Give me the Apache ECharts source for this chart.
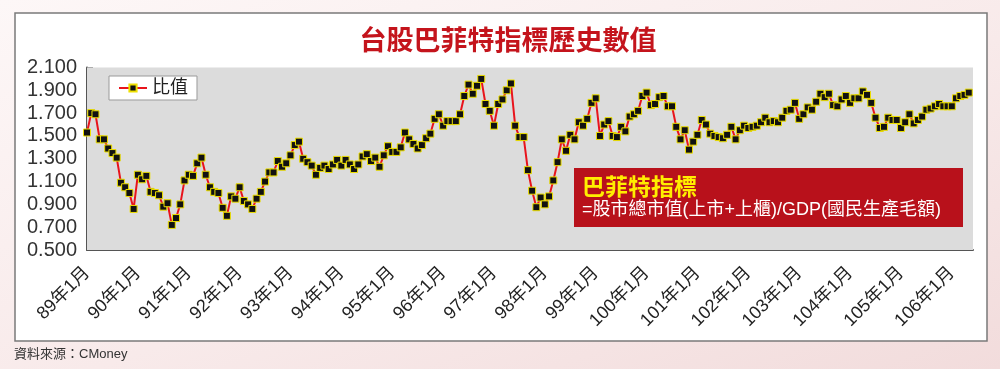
<!DOCTYPE html>
<html>
<head>
<meta charset="utf-8">
<script src="https://cdn.jsdelivr.net/npm/echarts@6/dist/echarts.min.js"></script>
<style>
html,body{margin:0;padding:0;}
body{width:1000px;height:369px;overflow:hidden;background:linear-gradient(160deg,#fdf7f7 0%,#f8eaea 55%,#f2dcdc 100%);}
#c{width:1000px;height:369px;}
</style>
</head>
<body>
<div id="c"></div>
<script>
// ---- data ----
const titleText = '台股巴菲特指標歷史數值';
const seriesName = '比值';
const sourceText = '資料來源：CMoney';
const boxTitle = '巴菲特指標';
const boxFormula = '=股市總市值(上市+上櫃)/GDP(國民生產毛額)';
const years = [89,90,91,92,93,94,95,96,97,98,99,100,101,102,103,104,105,106];
const lastMonth = 6; // axis runs to 106年6月
const v89  = [1.53,1.70,1.69,1.47,1.47,1.39,1.35,1.31,1.09,1.05,1.00,0.86];
const v90  = [1.16,1.12,1.15,1.01,1.00,0.98,0.88,0.91,0.72,0.78,0.90,1.11];
const v91  = [1.16,1.15,1.26,1.31,1.16,1.05,1.01,1.00,0.87,0.80,0.97,0.95];
const v92  = [1.05,0.93,0.90,0.86,0.95,1.01,1.10,1.18,1.18,1.28,1.23,1.26];
const v93  = [1.33,1.42,1.45,1.30,1.27,1.24,1.16,1.22,1.24,1.21,1.25,1.29];
const v94  = [1.24,1.29,1.25,1.21,1.25,1.32,1.34,1.28,1.31,1.23,1.33,1.41];
const v95  = [1.36,1.36,1.40,1.53,1.47,1.43,1.39,1.42,1.48,1.52,1.65,1.69];
const v96  = [1.59,1.63,1.63,1.63,1.69,1.85,1.95,1.87,1.94,2.00,1.78,1.72];
const v97  = [1.59,1.78,1.82,1.90,1.96,1.59,1.49,1.49,1.20,1.02,0.875,0.96];
const v98  = [0.90,0.97,1.11,1.27,1.47,1.37,1.51,1.47,1.62,1.59,1.65,1.79];
const v99  = [1.83,1.50,1.60,1.63,1.50,1.49,1.58,1.54,1.67,1.69,1.72,1.85];
const v100 = [1.88,1.77,1.78,1.84,1.85,1.76,1.76,1.58,1.47,1.55,1.38,1.45];
const v101 = [1.51,1.64,1.60,1.52,1.50,1.49,1.48,1.51,1.58,1.47,1.55,1.59];
const v102 = [1.57,1.58,1.59,1.62,1.66,1.62,1.63,1.62,1.66,1.72,1.73,1.79];
const v103 = [1.65,1.69,1.75,1.73,1.80,1.87,1.84,1.87,1.77,1.76,1.82,1.85];
const v104 = [1.79,1.83,1.83,1.89,1.86,1.79,1.66,1.57,1.58,1.66,1.64,1.64];
const v105 = [1.57,1.62,1.69,1.61,1.64,1.67,1.73,1.74,1.76,1.78,1.76,1.76];
const v106 = [1.76,1.83,1.85,1.86,1.88];
const yMin = 0.5, yMax = 2.1, yStep = 0.2;

// ---- build ----
const categories = [];
years.forEach(y => {
  const n = (y === years[years.length-1]) ? lastMonth : 12;
  for (let m = 1; m <= n; m++) categories.push(y + '年' + m + '月');
});
const values = [].concat(v89,v90,v91,v92,v93,v94,v95,v96,v97,v98,v99,v100,v101,v102,v103,v104,v105,v106);

const latin = '"Liberation Sans","Noto Sans CJK TC",sans-serif';
const chart = echarts.init(document.getElementById('c'), null, {renderer:'canvas'});
chart.setOption({
  animation: false,
  backgroundColor: 'transparent',
  grid: {left: 87, right: 27, top: 67.5, bottom: 119, show: true, backgroundColor: '#dcdcdc', borderWidth: 0, z: 1},
  legend: {
    left: 109, top: 76, padding: [3, 9, 3, 9],
    backgroundColor: '#ffffff', borderColor: '#9a9a9a', borderWidth: 1,
    itemWidth: 28, itemHeight: 9, itemGap: 6,
    textStyle: {fontSize: 18, color: '#222', fontFamily: latin},
    data: [seriesName]
  },
  xAxis: {
    type: 'category', data: categories, boundaryGap: false,
    axisLine: {lineStyle: {color: '#555', width: 2}},
    axisTick: {inside: true, length: 7, interval: 11, lineStyle: {color: '#555', width: 1.5}},
    axisLabel: {interval: 11, rotate: 45, margin: 20, fontSize: 18, color: '#222', fontFamily: latin},
    splitLine: {show: false}
  },
  yAxis: {
    type: 'value', min: yMin, max: yMax, interval: yStep,
    axisLine: {show: true, lineStyle: {color: '#555', width: 2}},
    axisTick: {show: true, inside: true, length: 6, lineStyle: {color: '#555', width: 1.5}},
    axisLabel: {fontSize: 20, color: '#333', margin: 10, fontFamily: latin, formatter: v => v.toFixed(3)},
    splitLine: {show: false}
  },
  series: [{
    name: seriesName, type: 'line', data: values,
    symbol: 'rect', symbolSize: 7, showAllSymbol: true,
    lineStyle: {color: '#e8141c', width: 2},
    itemStyle: {color: '#111', borderColor: '#eee000', borderWidth: 1},
    z: 5
  }],
  graphic: [
    {type: 'rect', z: -10, silent: true, shape: {x: 15, y: 13, width: 972, height: 328}, style: {fill: '#ffffff', stroke: '#7a7a7a', lineWidth: 1.5}},
    {type: 'text', z: 10, x: 508, y: 40, style: {text: titleText, fill: '#c4141c', font: 'bold 27px "Noto Sans CJK TC"', textAlign: 'center', textVerticalAlign: 'middle'}},
    {type: 'rect', z: 50, shape: {x: 574, y: 168, width: 389, height: 59}, style: {fill: '#b8111b'}},
    {type: 'text', z: 51, x: 582, y: 186, style: {text: boxTitle, fill: '#ffee00', font: 'bold 23px "Noto Sans CJK TC"', textVerticalAlign: 'middle'}},
    {type: 'text', z: 51, x: 582, y: 210, style: {text: boxFormula, fill: '#ffffff', font: '18px "Liberation Sans","Noto Sans CJK TC"', textVerticalAlign: 'middle'}},
    {type: 'text', z: 10, x: 14, y: 354, style: {text: sourceText, fill: '#333', font: '13px "Liberation Sans","Noto Sans CJK TC"', textVerticalAlign: 'middle'}}
  ]
});
</script>
</body>
</html>
